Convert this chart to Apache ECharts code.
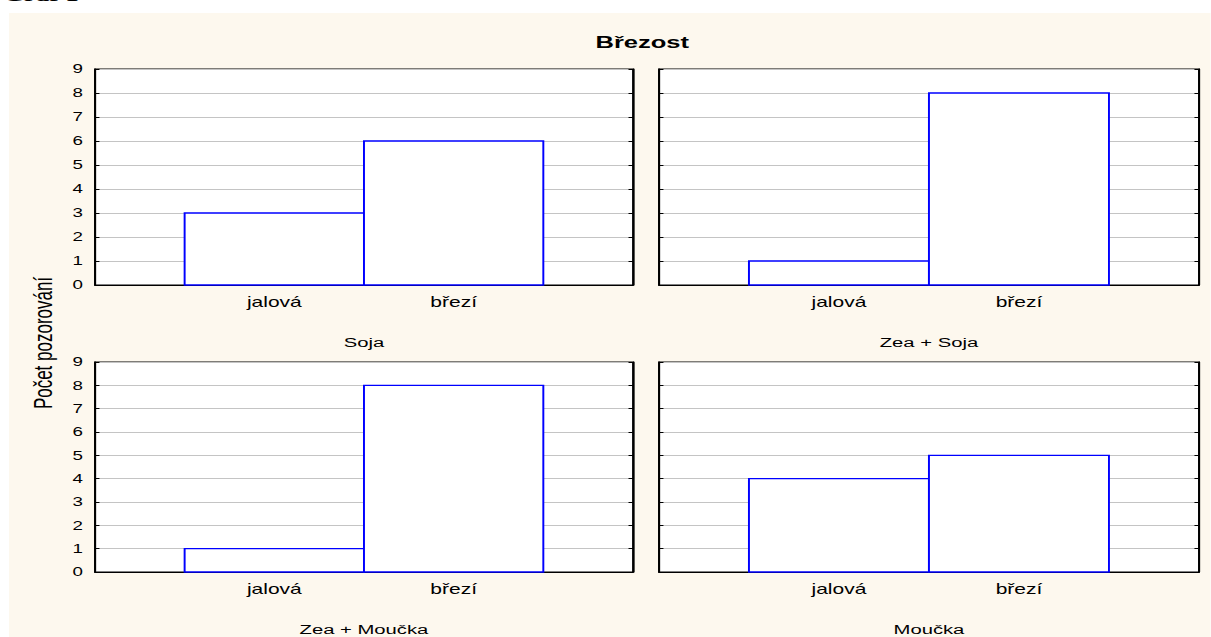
<!DOCTYPE html>
<html>
<head>
<meta charset="utf-8">
<script src="https://cdn.jsdelivr.net/npm/echarts@6/dist/echarts.min.js"></script>
<style>
  html, body { margin: 0; padding: 0; background: #ffffff; overflow: hidden; }
  #wrap { position: absolute; left: 0; top: 0; width: 1211px; height: 637px; overflow: hidden; }
  #chart { position: absolute; left: 0; top: 0; width: 807.33px; height: 637px;
           transform: scaleX(1.5); transform-origin: 0 0; }
</style>
</head>
<body>
<div id="wrap"><div id="chart"></div></div>
<script>
// ---- data ----
const categories = ['jalová', 'březí'];
const panelTitles = ['Soja', 'Zea + Soja', 'Zea + Moučka', 'Moučka'];
const soja = [3, 6];
const zeaSoja = [1, 8];
const zeaMoucka = [1, 8];
const moucka = [4, 5];
const yTicks = [0, 1, 2, 3, 4, 5, 6, 7, 8, 9];
const chartTitle = 'Březost';
const yAxisTitle = 'Počet pozorování';
const pageHeading = 'Graf 1';

const panelValues = [soja, zeaSoja, zeaMoucka, moucka];

// ---- layout (unscaled coordinates; the page is stretched horizontally 1.5x) ----
const gridPos = [
  { left: 63.3, top: 69, width: 358.7, height: 216 },
  { left: 439.3, top: 69, width: 360, height: 216 },
  { left: 63.3, top: 362, width: 358.7, height: 216 },
  { left: 439.3, top: 362, width: 360, height: 216 }
];

const FONT = '"Liberation Sans", Arial, sans-serif';
const blue = '#0000ff';

const grids = [], xAxes = [], yAxes = [], series = [];
gridPos.forEach((g, i) => {
  grids.push(Object.assign({
    show: true, backgroundColor: '#ffffff', borderColor: '#000000', borderWidth: 1.2, containLabel: false
  }, g));
  xAxes.push({
    type: 'value', gridIndex: i, min: 0, max: categories.length + 1, interval: 1,
    name: panelTitles[i], nameLocation: 'middle', nameGap: 50,
    nameTextStyle: { fontFamily: FONT, fontSize: 13.5, color: '#000' },
    axisLine: { show: true, lineStyle: { color: '#000', width: 1.2 } },
    axisTick: { show: true, inside: true, length: 3, customValues: categories.map((c, k) => k + 1),
                lineStyle: { color: '#000', width: 1 } },
    axisLabel: { show: true, margin: 10, fontFamily: FONT, fontSize: 14, color: '#000',
                 customValues: categories.map((c, k) => k + 1),
                 formatter: v => categories[Math.round(v) - 1] || '' },
    splitLine: { show: false }
  });
  const leftCol = (i % 2 === 0);
  yAxes.push({
    type: 'value', gridIndex: i, min: yTicks[0], max: yTicks[yTicks.length - 1], interval: 1,
    position: 'left',
    axisLine: { show: true, lineStyle: { color: '#000', width: 1.2 } },
    axisTick: { show: true, inside: true, length: 3, lineStyle: { color: '#000', width: 1 } },
    axisLabel: { show: leftCol, margin: 8, fontFamily: FONT, fontSize: 12.5, color: '#000' },
    splitLine: { show: true, lineStyle: { color: '#c4c4c4', width: 1 } }
  });
  yAxes.push({
    type: 'value', gridIndex: i, min: yTicks[0], max: yTicks[yTicks.length - 1], interval: 1,
    position: 'right',
    axisLine: { show: true, lineStyle: { color: '#000', width: 1.2 } },
    axisTick: { show: true, inside: true, length: 3, lineStyle: { color: '#000', width: 1 } },
    axisLabel: { show: false },
    splitLine: { show: false }
  });
  series.push({
    type: 'custom', xAxisIndex: i, yAxisIndex: i * 2, z: 3,
    data: panelValues[i].map((v, k) => [k + 1, v]),
    renderItem: function (params, api) {
      const x = api.value(0), y = api.value(1);
      const p0 = api.coord([x - 0.5, 0]);
      const p1 = api.coord([x + 0.5, y]);
      return {
        type: 'rect',
        shape: { x: p0[0], y: p1[1], width: p1[0] - p0[0], height: p0[1] - p1[1] },
        style: { fill: '#ffffff', stroke: blue, lineWidth: 1.3 }
      };
    }
  });
});

const chart = echarts.init(document.getElementById('chart'), null, { renderer: 'svg' });
chart.setOption({
  animation: false,
  backgroundColor: 'transparent',
  title: {
    text: chartTitle, left: 392, top: 29,
    textStyle: { fontFamily: FONT, fontSize: 17, fontWeight: 'bold', color: '#000' }
  },
  graphic: [
    { type: 'rect', z: -10, shape: { x: 6, y: 13, width: 810, height: 630 },
      style: { fill: '#fdf8ee' } },
    { type: 'text', z: 5, x: 2, y: 4,
      style: { text: pageHeading, fontFamily: '"Liberation Serif", "Times New Roman", serif',
               fontSize: 18, fontWeight: 'bold', fill: '#000', textVerticalAlign: 'bottom' } },
    { type: 'text', z: 5, x: 28.7, y: 343, rotation: Math.PI / 2,
      style: { text: yAxisTitle, fontFamily: FONT, fontSize: 17, fill: '#000',
               textAlign: 'center', textVerticalAlign: 'middle' } }
  ],
  grid: grids,
  xAxis: xAxes,
  yAxis: yAxes,
  series: series
});
</script>
</body>
</html>
